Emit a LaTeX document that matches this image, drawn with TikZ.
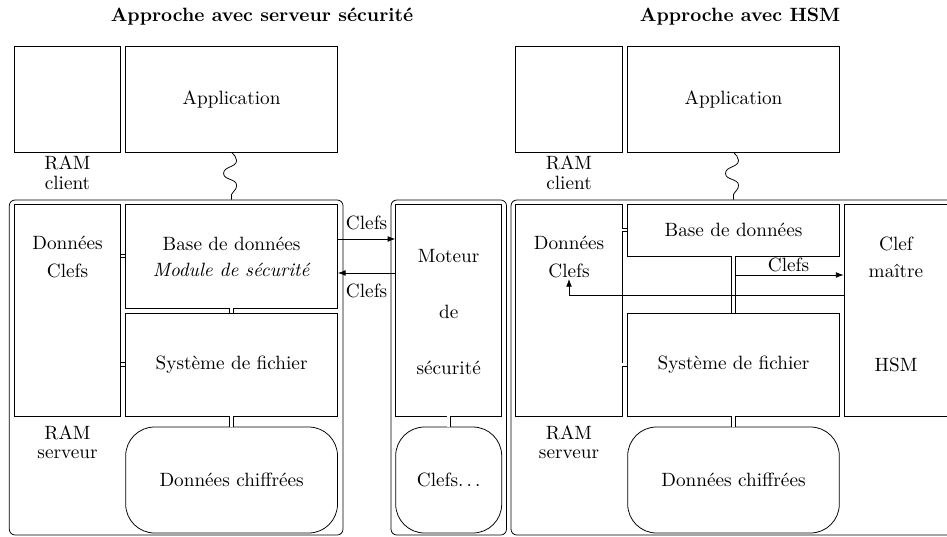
\documentclass[tikz,border=0pt]{standalone}
\usetikzlibrary{fit,arrows.meta}
\begin{document}
\begin{tikzpicture}[x=0.52pt, y=-0.52pt,
  box/.style={draw, inner sep=0pt},
  frame/.style={draw, inner sep=0pt, rounded corners=3pt},
  store/.style={draw, inner sep=0pt, rounded corners=15pt},
  txt/.style={align=center, inner sep=0pt},
  link/.style={double, double distance=1.4pt},
  arr/.style={-{Latex[length=4pt,width=3pt]}},
  heading/.style={font=\bfseries, inner sep=0pt}]
\useasboundingbox (0,0) rectangle (947,536);
\clip (0,0) rectangle (947,536);

% ---------- security server approach ----------
\node[heading] (t1) at (262,17) {Approche avec serveur sécurité};
\node[box, fit={(14.3,46) (120.7,152)}] (ramc1) {};
\node[txt] (ramc1t) at (67.5,173) {RAM\\[-1.5pt]client};
\node[box, fit={(125.7,46) (337.5,152)}] (app1) {};
\node[txt] (app1t) at (app1) {Application};

\node[frame, fit={(9.3,200) (343,535)}] (srv1) {};
\node[box, fit={(14.3,204) (120.7,416)}] (don1) {};
\node[txt] (don1t) at (67.5,257) {Données\\[2.2pt]Clefs};
\node[box, fit={(125.7,204) (337.5,308)}] (base1) {};
\node[txt] (base1t) at (231.6,257) {Base de données\\[1.6pt]\textit{Module de sécurité}};
\node[box, fit={(125.7,313) (337.5,416)}] (sys1) {};
\node[txt] (sys1t) at (sys1) {Système de fichier};
\node[txt] (rams1t) at (67.5,442) {RAM\\[-2pt]serveur};
\node[store, fit={(125.7,427) (337.5,533)}] (chiff1) {};
\node[txt] (chiff1t) at (chiff1) {Données chiffrées};

\node[frame, fit={(391,200) (506.5,535)}] (srvm) {};
\node[box, fit={(395.7,204) (501.7,416)}] (mot) {};
\node[txt] (mott) at (448.7,312) {Moteur\\[17pt]de\\[17pt]sécurité};
\node[store, fit={(395.7,427) (501.7,533)}] (keys) {};
\node[txt] (keyst) at (keys) {Clefs.\kern.166em.\kern.166em.};

% wavy client-server link
\draw (app1.south) to[out=-50,in=90] ++(5,8) to[out=-90,in=90] ++(-13,13)
  to[out=-90,in=90] ++(13,12) to[out=-90,in=60] ++(-5,9) -- (app1.south |- srv1.north);
\draw[link] (base1.west) -- (base1.west -| don1.east);
\draw[link] (sys1.west) -- (sys1.west -| don1.east);
\draw[link] (base1.south) -- (sys1.north);
\draw[link] (sys1.south) -- (chiff1.north);
\draw[link] (mot.south) -- (keys.north);
\draw[arr] (base1.east |- 0,239) -- node[above=1pt] (lk1) {Clefs} (mot.west |- 0,239);
\draw[arr] (mot.west |- 0,273) -- node[below=2pt] (lk2) {Clefs} (base1.east |- 0,273);

% ---------- HSM approach ----------
\node[heading] (t2) at (740,17) {Approche avec HSM};
\node[box, fit={(515.7,46) (622,152)}] (ramc2) {};
\node[txt] (ramc2t) at (569,173) {RAM\\[-1.5pt]client};
\node[box, fit={(627.7,46) (839.3,152)}] (app2) {};
\node[txt] (app2t) at (app2) {Application};

\node[frame, fit={(511,200) (956,535)}] (srv2) {};
\node[box, fit={(515.7,204) (622,416)}] (don2) {};
\node[txt] (don2t) at (569,257) {Données\\[2.2pt]Clefs};
\node[box, fit={(627.7,204) (839.3,256)}] (base2) {};
\node[txt] (base2t) at (base2) {Base de données};
\node[box, fit={(627.7,313.3) (839.3,416)}] (sys2) {};
\node[txt] (sys2t) at (sys2) {Système de fichier};
\node[box, fit={(844,204) (951,416)}] (hsm) {};
\node[txt] (hsmt1) at (896,257) {Clef\\[2.2pt]maître};
\node[txt] (hsmt2) at (896,365) {HSM};
\node[txt] (rams2t) at (569,442) {RAM\\[-2pt]serveur};
\node[store, fit={(627.7,427) (839.3,533)}] (chiff2) {};
\node[txt] (chiff2t) at (chiff2) {Données chiffrées};
\coordinate (kin) at (569,279);

\draw (app2.south) to[out=-50,in=90] ++(5,8) to[out=-90,in=90] ++(-13,13)
  to[out=-90,in=90] ++(13,12) to[out=-90,in=60] ++(-5,9) -- (app2.south |- srv2.north);
\draw[arr] (base2.south |- 0,275) -- node[above, inner sep=1.2pt] (lk3) {Clefs} (hsm.west |- 0,275);
\draw[link] (base2.west) -- (base2.west -| don2.east);
\draw[link] (sys2.west) -- (sys2.west -| don2.east);
\draw[link] (base2.south) -- (sys2.north);
\draw[link] (sys2.south) -- (chiff2.north);
\draw[arr] (hsm.west |- 0,295) -| (kin);
\end{tikzpicture}
\end{document}
